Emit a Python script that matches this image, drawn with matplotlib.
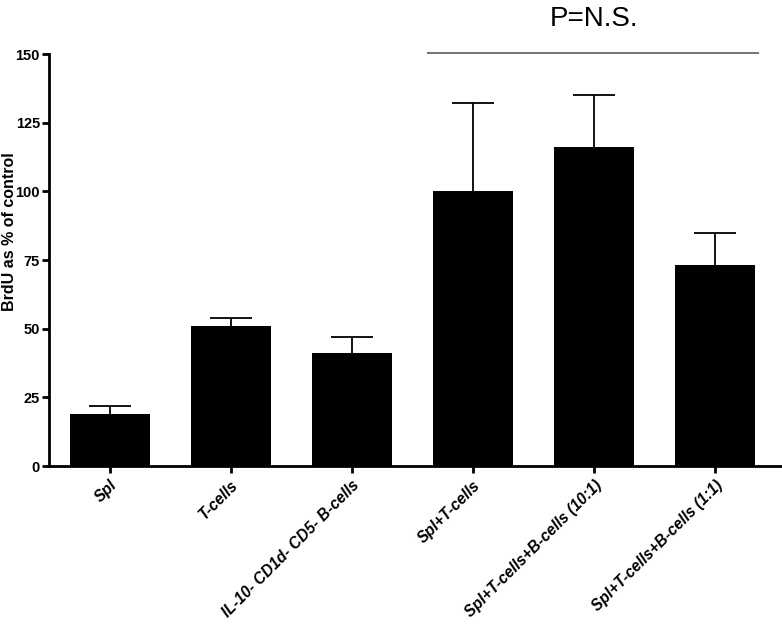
import matplotlib.pyplot as plt
import numpy as np

plt.rcParams['font.family'] = ['Liberation Sans', 'DejaVu Sans']

groups = ['Spl', 'T-cells', 'IL-10- CD1d- CD5- B-cells', 'Spl+T-cells',
          'Spl+T-cells+B-cells (10:1)', 'Spl+T-cells+B-cells (1:1)']
means = [19, 51, 41, 100, 116, 73]
errors = [3, 3, 6, 32, 19, 12]

fig = plt.figure(figsize=(7.82, 6.24), dpi=100)
ax = fig.add_axes([49 / 782, (624 - 466) / 624, (782 - 49) / 782, 412 / 624])

x = np.arange(len(groups))
ax.bar(x, means, width=0.66, color='black', zorder=2)
eb = ax.errorbar(x, means, yerr=[np.zeros(len(errors)), errors], fmt='none',
                 ecolor='black', elinewidth=1.3, capsize=14.8, capthick=1.3, zorder=1)
# only the upper cap, like the original
eb[1][0].set_visible(False)

ax.set_xlim(-0.5, 5.55)
ax.set_ylim(0, 150)
ax.set_yticks([0, 25, 50, 75, 100, 125, 150])
ax.set_xticks(x)
ax.set_xticklabels(groups, rotation=45, ha='right', rotation_mode='anchor',
                   fontsize=11.2, fontweight='bold', fontstyle='italic')
for lab in ax.get_yticklabels():
    lab.set_fontweight('bold')
    lab.set_fontsize(10.5)
ax.set_ylabel('BrdU as % of control', fontsize=11.5, fontweight='bold')
ax.yaxis.set_label_coords(-0.044, 0.57)

for s in ['top', 'right']:
    ax.spines[s].set_visible(False)
for s in ['left', 'bottom']:
    ax.spines[s].set_linewidth(2)
ax.tick_params(width=2, length=5)
ax.tick_params(axis='y', pad=1.5)

# significance annotation
ax.plot([2.63, 5.35], [150.5, 150.5], color='#777777', lw=1.5, clip_on=False)
ax.text(4.0, 158, 'P=N.S.', ha='center', va='bottom', fontsize=20)

fig.savefig('out.png')
